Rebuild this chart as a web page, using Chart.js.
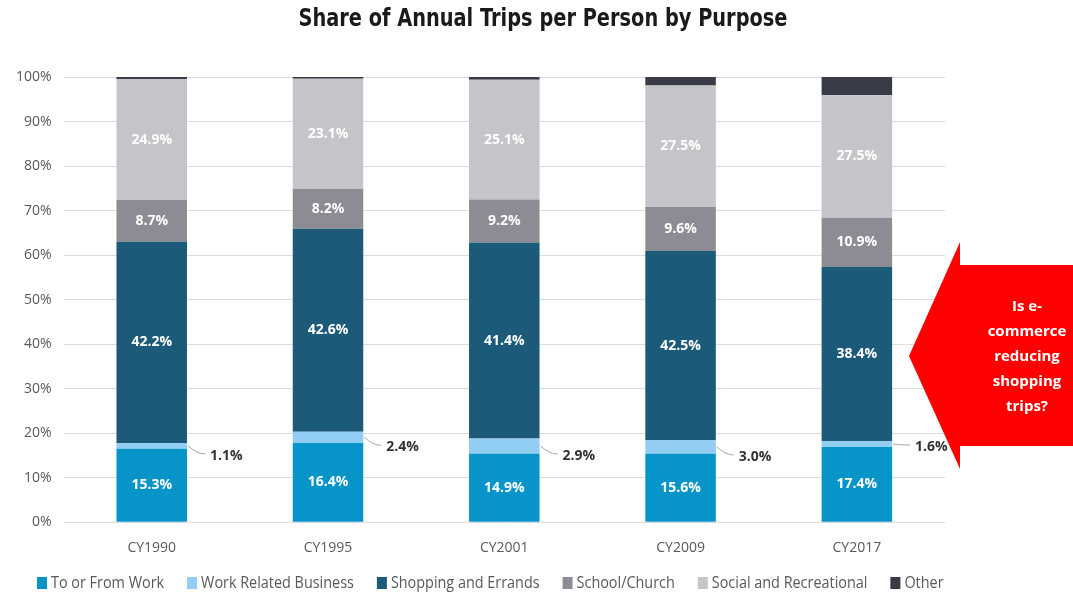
<!DOCTYPE html>
<html>
<head>
<meta charset="utf-8">
<script src="https://cdn.jsdelivr.net/npm/chart.js@4.4.0/dist/chart.umd.min.js"></script>
<style>
  html, body { margin: 0; padding: 0; background: #fff; }
  #wrap { width: 1073px; height: 594px; position: relative; }
</style>
</head>
<body>
<div id="wrap"><canvas id="tripsChart"></canvas></div>
<script>
// -----------------------------
// data
// -----------------------------
const years = ["CY1990", "CY1995", "CY2001", "CY2009", "CY2017"];

// bar heights (share of the bar, %)
const toFromWork      = [16.5, 17.8, 15.4, 15.4, 16.9];
const workRelated     = [1.3, 2.5, 3.4, 3.0, 1.3];
const shoppingErrands = [45.2, 45.6, 44.0, 42.5, 39.1];
const schoolChurch    = [9.4, 9.0, 9.7, 9.9, 11.1];
const socialRec       = [27.1, 24.7, 26.9, 27.3, 27.5];
const otherTrips      = [0.5, 0.4, 0.6, 1.9, 4.1];

// printed labels
const workLabels     = ["15.3%", "16.4%", "14.9%", "15.6%", "17.4%"];
const relatedLabels  = ["1.1%", "2.4%", "2.9%", "3.0%", "1.6%"];
const shopLabels     = ["42.2%", "42.6%", "41.4%", "42.5%", "38.4%"];
const schoolLabels   = ["8.7%", "8.2%", "9.2%", "9.6%", "10.9%"];
const socialLabels   = ["24.9%", "23.1%", "25.1%", "27.5%", "27.5%"];

const yTicks = [0, 10, 20, 30, 40, 50, 60, 70, 80, 90, 100];

const chartTitle = "Share of Annual Trips per Person by Purpose";
const labelFont = "bold 14px 'Open Sans', sans-serif";

// title, centred on the page and squeezed like the condensed original
const pageTitle = {
  id: "pageTitle",
  afterDraw(chart) {
    const ctx = chart.ctx;
    ctx.save();
    ctx.font = "bold 24px 'DejaVu Sans', sans-serif";
    const w = ctx.measureText(chartTitle).width;
    ctx.translate(543, 20);
    ctx.scale(489 / w, 1);
    ctx.fillStyle = "#1a1a1a";
    ctx.textAlign = "center";
    ctx.textBaseline = "middle";
    ctx.fillText(chartTitle, 0, 0);
    ctx.restore();
  }
};

// legend along the bottom, narrow text like the original
const bottomLegend = {
  id: "bottomLegend",
  afterDraw(chart) {
    const ctx = chart.ctx;
    const y = 583;
    let x = 37;
    ctx.save();
    ctx.font = "16px 'Open Sans', sans-serif";
    ctx.textBaseline = "middle";
    ctx.textAlign = "left";
    chart.data.datasets.forEach(ds => {
      ctx.fillStyle = ds.backgroundColor;
      ctx.fillRect(x, y - 6, 10, 12);
      const w = ctx.measureText(ds.label).width * 0.9;
      ctx.save();
      ctx.translate(x + 14, y);
      ctx.scale(0.9, 1);
      ctx.fillStyle = "#595959";
      ctx.fillText(ds.label, 0, 0);
      ctx.restore();
      x += 14 + w + 23;
    });
    ctx.restore();
  }
};

// the red call-out arrow (drawn under the labels)
const calloutArrow = {
  id: "calloutArrow",
  afterDatasetsDraw(chart) {
    const ctx = chart.ctx;
    ctx.save();
    ctx.fillStyle = "#ff0000";
    ctx.beginPath();
    ctx.moveTo(909, 356);
    ctx.lineTo(960, 242);
    ctx.lineTo(960, 265);
    ctx.lineTo(1073, 265);
    ctx.lineTo(1073, 446);
    ctx.lineTo(960, 446);
    ctx.lineTo(960, 469);
    ctx.closePath();
    ctx.fill();
    ctx.fillStyle = "#ffffff";
    ctx.font = "bold 15px 'Open Sans', sans-serif";
    ctx.textAlign = "center";
    ctx.textBaseline = "middle";
    ["Is e-", "commerce", "reducing", "shopping", "trips?"].forEach((t, k) => {
      ctx.fillText(t, 1027, 307 + k * 25);
    });
    ctx.restore();
  }
};

// labels inside / beside the bars
const segmentLabels = {
  id: "segmentLabels",
  afterDatasetsDraw(chart) {
    const ctx = chart.ctx;
    const inside = { 0: workLabels, 2: shopLabels, 3: schoolLabels, 4: socialLabels };
    ctx.save();
    ctx.font = labelFont;
    ctx.textBaseline = "middle";
    Object.keys(inside).forEach(di => {
      const meta = chart.getDatasetMeta(+di);
      meta.data.forEach((bar, i) => {
        const mid = (bar.y + bar.base) / 2;
        ctx.fillStyle = "#ffffff";
        ctx.textAlign = "center";
        ctx.fillText(inside[di][i], bar.x, mid);
      });
    });
    // work related: leader line + dark label
    const meta = chart.getDatasetMeta(1);
    meta.data.forEach((bar, i) => {
      const mid = (bar.y + bar.base) / 2;
      const right = bar.x + bar.width / 2;
      const ly = mid + (i === 4 ? 3 : 10);
      ctx.strokeStyle = "#a6a6a6";
      ctx.lineWidth = 1;
      ctx.beginPath();
      ctx.moveTo(right + 1, mid);
      ctx.quadraticCurveTo(right + 10, ly - 2, right + 18, ly - 2);
      ctx.stroke();
      ctx.fillStyle = "#333333";
      ctx.textAlign = "left";
      ctx.fillText(relatedLabels[i], right + 23, ly);
    });
    ctx.restore();
  }
};

const ctx = document.getElementById("tripsChart").getContext("2d");

const tripsChart = new Chart(ctx, {
  type: "bar",
  data: {
    labels: years,
    datasets: [
      { label: "To or From Work", data: toFromWork, backgroundColor: "#0795c9" },
      { label: "Work Related Business", data: workRelated, backgroundColor: "#92cdf3" },
      { label: "Shopping and Errands", data: shoppingErrands, backgroundColor: "#1c5a7a" },
      { label: "School/Church", data: schoolChurch, backgroundColor: "#8d8c94" },
      { label: "Social and Recreational", data: socialRec, backgroundColor: "#c5c4c9" },
      { label: "Other", data: otherTrips, backgroundColor: "#393c47" }
    ]
  },
  options: {
    responsive: true,
    maintainAspectRatio: false,
    animation: false,
    layout: { padding: { left: 4, right: 128, top: 77, bottom: 21 } },
    datasets: { bar: { barPercentage: 0.4, categoryPercentage: 1.0 } },
    plugins: {
      title: { display: false },
      legend: { display: false },
      tooltip: { enabled: false }
    },
    scales: {
      x: {
        stacked: true,
        grid: { display: false, drawTicks: false },
        border: { display: false },
        ticks: { color: "#595959", padding: 17, font: { family: "'Open Sans', sans-serif", size: 14 } }
      },
      y: {
        stacked: true,
        min: 0,
        max: 100,
        afterBuildTicks: axis => { axis.ticks = yTicks.map(v => ({ value: v })); },
        grid: { color: "#dcdce0", drawTicks: false },
        border: { display: false },
        ticks: {
          color: "#595959",
          padding: 12,
          font: { family: "'Open Sans', sans-serif", size: 14 },
          callback: v => v + "%"
        }
      }
    }
  },
  plugins: [calloutArrow, segmentLabels, pageTitle, bottomLegend]
});
</script>
</body>
</html>
